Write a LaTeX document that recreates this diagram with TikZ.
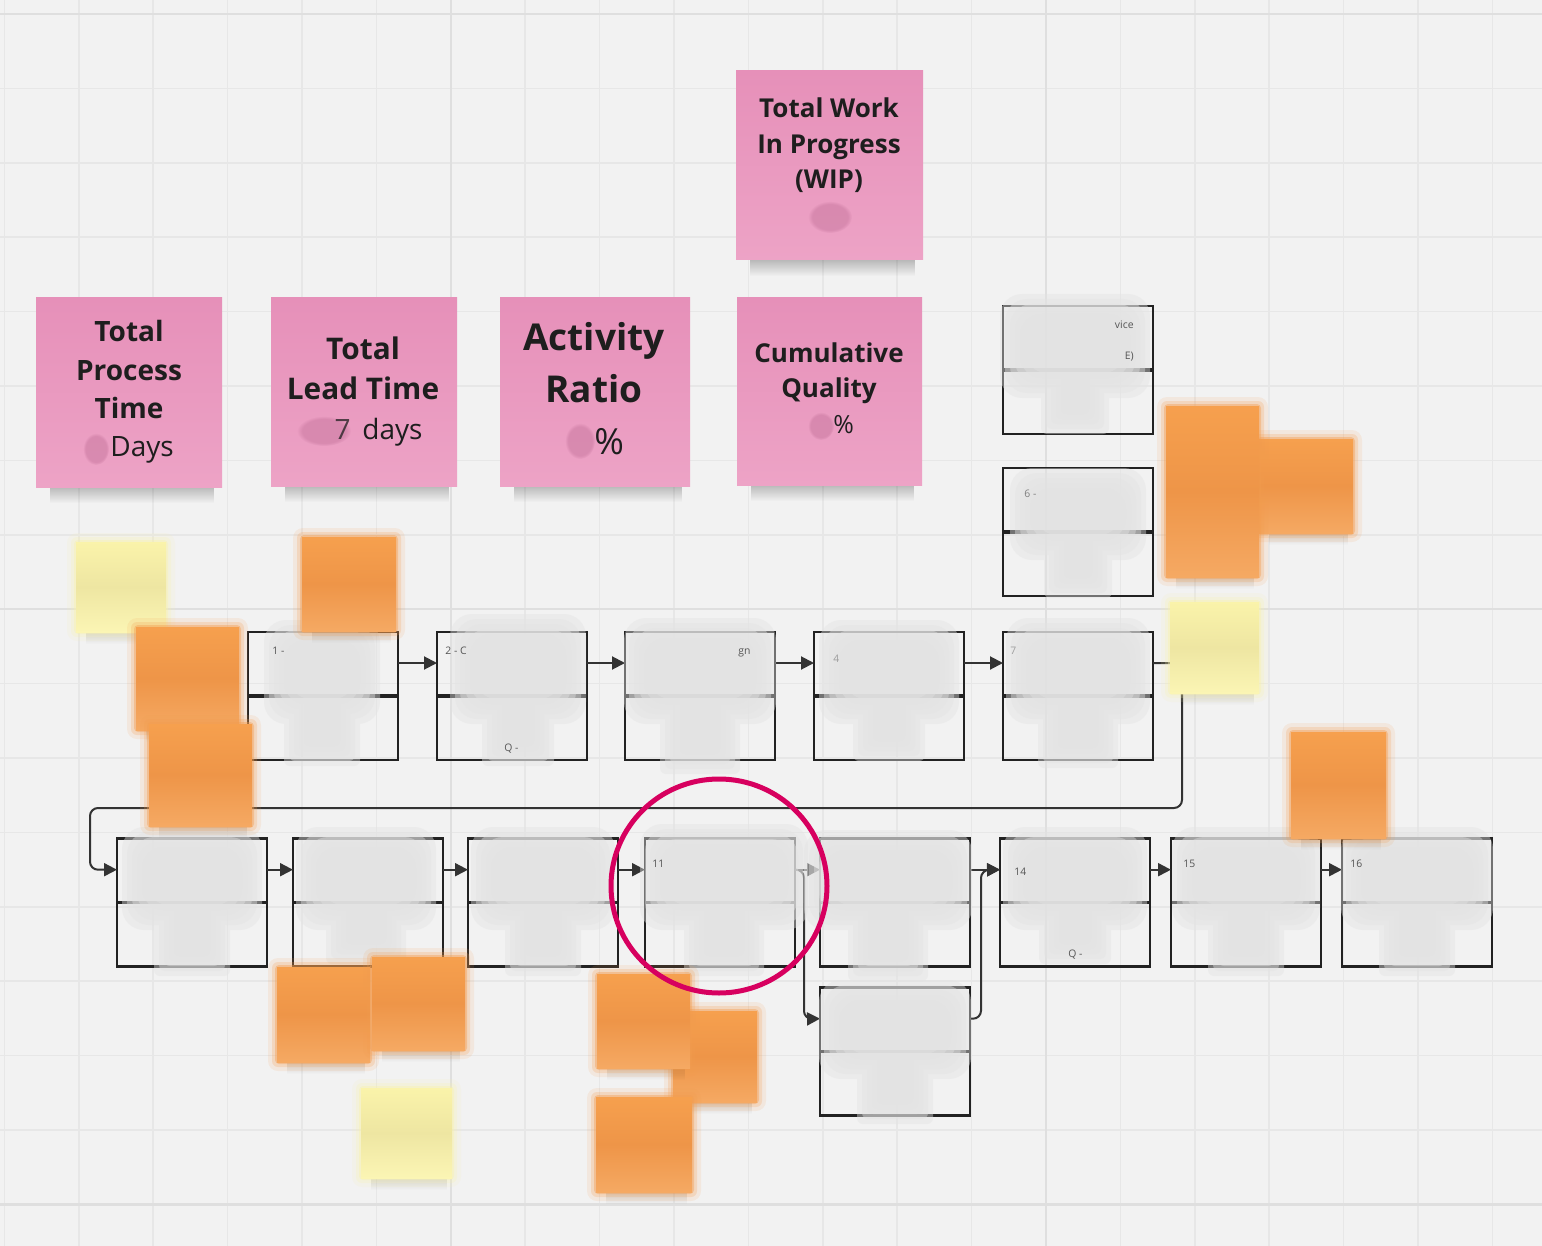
\documentclass[tikz,border=0pt]{standalone}
\usepackage{fontspec}
\setmainfont{Open Sans}
\usetikzlibrary{arrows.meta,fadings}
\definecolor{bgc}{HTML}{F2F2F2}
\definecolor{gridc}{HTML}{E7E7E7}
\definecolor{gridd}{HTML}{DFDFDF}
\definecolor{boxc}{HTML}{222222}
\definecolor{connc}{HTML}{333333}
\definecolor{blobc}{HTML}{E3E3E3}
\definecolor{fragc}{HTML}{555555}
\definecolor{txtc}{HTML}{1E1E1E}
\definecolor{pinkT}{HTML}{E690B9}
\definecolor{pinkB}{HTML}{EDA3C6}
\definecolor{smudgec}{HTML}{CC7CA3}
\definecolor{orngT}{HTML}{F6A04E}
\definecolor{orngM}{HTML}{EE9548}
\definecolor{orngB}{HTML}{F5A963}
\definecolor{orng}{HTML}{F29C4E}
\definecolor{yelT}{HTML}{FAF3AA}
\definecolor{yelM}{HTML}{EEE6A2}
\definecolor{yelB}{HTML}{FBF5B4}
\definecolor{yel}{HTML}{F8F1AC}
\definecolor{magc}{HTML}{D7005F}

% #1 cx, #2 box top, #3 divider y, #4 box bottom, #5 head half width, #6 stem half width
\newcommand\myblob[6]{%
  \foreach \s in {0,5,10,15,20,25}{%
    \fill[blobc,opacity=.42]
      [rounded corners=11pt] ({#1-#5+\s},{#2-12+\s}) rectangle ({#1+#5-\s},{#3+28-\s})
      [rounded corners=3pt] ({#1-#6+\s},{#3}) rectangle ({#1+#6-\s},{#4+6-\s});
  }}
\newcommand\halo[5]{%
  \fill[#5,opacity=.12,rounded corners=5pt] ({#1-9},{#2-9}) rectangle ({#3+9},{#4+9});
  \fill[#5,opacity=.22,rounded corners=3pt] ({#1-5},{#2-5}) rectangle ({#3+5},{#4+5});
  \fill[#5,opacity=.4,rounded corners=2pt] ({#1-2},{#2-2}) rectangle ({#3+2},{#4+2});}
\newcommand\osticky[4]{%
  \fill[black,opacity=.16,path fading=south] ({#1+10},{#4-3}) rectangle ({#3-5},{#4+12});
  \halo{#1}{#2}{#3}{#4}{orng}
  \shade[top color=orngT,bottom color=orngB,middle color=orngM] (#1,#2) rectangle (#3,#4);}
\newcommand\ysticky[4]{%
  \fill[black,opacity=.16,path fading=south] ({#1+10},{#4-3}) rectangle ({#3-5},{#4+12});
  \halo{#1}{#2}{#3}{#4}{yel}
  \shade[top color=yelT,bottom color=yelB,middle color=yelM] (#1,#2) rectangle (#3,#4);}
\newcommand\psticky[4]{%
  \fill[black,opacity=.28,path fading=south] ({#1+14},{#4-3}) rectangle ({#3-8},{#4+16});
  \shade[top color=pinkT,bottom color=pinkB] (#1,#2) rectangle (#3,#4);}
\newcommand\smudge[4]{%
  \fill[smudgec,opacity=.6,path fading=circle with fuzzy edge 20 percent] (#1,#2) ellipse [x radius=#3, y radius=#4];}

\begin{document}
\begin{tikzpicture}[x=0.5pt,y=-0.5pt,
  pbox/.style={draw=boxc,line width=1.2pt,minimum width=75pt,minimum height=64pt,inner sep=0pt,outer sep=0pt},
  divl/.style={draw=boxc,line width=1.8pt},
  conn/.style={draw=connc,line width=1pt,-{Triangle[length=6.5pt,width=6.5pt]}},
  retl/.style={draw=connc,line width=1pt,rounded corners=4pt,-{Triangle[length=6.5pt,width=6.5pt]}},
  lbl/.style={anchor=base,inner sep=0pt,text=txtc},
  bfA/.style={font=\fontsize{14pt}{16pt}\selectfont\bfseries},
  bfL/.style={font=\fontsize{14.9pt}{16pt}\selectfont\bfseries},
  bfB/.style={font=\fontsize{18.5pt}{20pt}\selectfont\bfseries},
  bfC/.style={font=\fontsize{13pt}{15pt}\selectfont\bfseries},
  rgA/.style={font=\fontsize{14pt}{16pt}\selectfont},
  rgB/.style={font=\fontsize{18pt}{20pt}\selectfont},
  rgC/.style={font=\fontsize{12.5pt}{14pt}\selectfont},
  frag/.style={anchor=mid west,inner sep=0pt,text=fragc,font=\fontsize{5.2pt}{6pt}\selectfont},
]
% background and grid
\fill[bgc] (0,0) rectangle (1542,1246);
\useasboundingbox (0,0) rectangle (1542,1246);
\foreach \k in {0,...,20}{\draw[gridc,line width=.75pt] ({4.4+74.4*\k},0) -- ({4.4+74.4*\k},1246);}
\foreach \k in {0,...,16}{\draw[gridc,line width=.75pt] (0,{14+74.4*\k}) -- (1542,{14+74.4*\k});}
\foreach \k in {6,14}{\draw[gridd,line width=1.2pt] ({4.4+74.4*\k},0) -- ({4.4+74.4*\k},1246);}
\foreach \k in {0,8,16}{\draw[gridd,line width=1.2pt] (0,{14+74.4*\k}) -- (1542,{14+74.4*\k});}

% pink metric stickies
\psticky{36}{298}{222}{487}
\psticky{271}{298}{457}{486}
\psticky{500}{298}{690}{486}
\psticky{737}{298}{922}{485}
\psticky{736}{71}{923}{260}

\node[lbl,bfA] (tp1) at (129,341.7) {Total};
\node[lbl,bfA] (tp2) at (129,380.7) {Process};
\node[lbl,bfA] (tp3) at (129,418.3) {Time};
\smudge{96}{449}{13}{16}
\node[lbl,rgA,anchor=base west] (tp4) at (110,456.7) {Days};

\node[lbl,bfL] (tl1) at (363,359) {Total};
\node[lbl,bfL] (tl2) at (363,399.3) {Lead Time};
\smudge{324}{431}{27}{15}
\node[lbl,rgA,anchor=base east,opacity=.75] (tl4) at (351,439.3) {7};
\node[lbl,rgA,anchor=base west] (tl3) at (362,439.3) {days};

\node[lbl,bfB] (ta1) at (594,350.7) {Activity};
\node[lbl,bfB] (ta2) at (594,402.3) {Ratio};
\smudge{580}{441}{15}{18}
\node[lbl,rgB,anchor=base west] (ta3) at (594,454.3) {\%};

\node[lbl,bfC] (tc1) at (829,362.7) {Cumulative};
\node[lbl,bfC] (tc2) at (829,397.3) {Quality};
\smudge{821}{426}{13}{14}
\node[lbl,rgC,anchor=base west] (tc3) at (833,433.3) {\%};

\node[lbl,bfC] (tw1) at (829,117.3) {Total Work};
\node[lbl,bfC] (tw2) at (829,153.3) {In Progress};
\node[lbl,bfC] (tw3) at (829,188.3) {(WIP)};
\smudge{830}{217}{22}{16}

% process boxes
\node[pbox] (b1) at (323,696) {};
\node[pbox] (b2) at (512,696) {};
\node[pbox] (b3) at (700,696) {};
\node[pbox] (b4) at (889,696) {};
\node[pbox] (b5) at (1078,696) {};
\node[pbox] (b15) at (1078,370) {};
\node[pbox] (b16) at (1078,532) {};
\node[pbox] (b6) at (192,902.5) {};
\node[pbox] (b7) at (368,902.5) {};
\node[pbox] (b8) at (543,902.5) {};
\node[pbox] (b9) at (720,902.5) {};
\node[pbox] (b10) at (895,902.5) {};
\node[pbox] (b11) at (895,1051.5) {};
\node[pbox] (b12) at (1075,902.5) {};
\node[pbox] (b13) at (1246,902.5) {};
\node[pbox] (b14) at (1417,902.5) {};
\foreach \b in {b1,b2,b3,b4,b5,b15,b16,b6,b7,b8,b9,b10,b11,b12,b13,b14}{\draw[divl] (\b.west) -- (\b.east);}

% connectors
\coordinate (ret1) at (1182,808);
\coordinate (ret2) at (90,808);
\coordinate (split) at (804,1019);
\coordinate (merge) at (981,870);
\draw[conn] ([yshift=16.5pt]b1.east) -- ([yshift=16.5pt]b2.west);
\draw[conn] ([yshift=16.5pt]b2.east) -- ([yshift=16.5pt]b3.west);
\draw[conn] ([yshift=16.5pt]b3.east) -- ([yshift=16.5pt]b4.west);
\draw[conn] ([yshift=16.5pt]b4.east) -- ([yshift=16.5pt]b5.west);
\draw[retl] ([yshift=16.5pt]b5.east) -| (ret1) -- (ret2) |- ([yshift=16.4pt]b6.west);
\draw[conn] ([yshift=16.4pt]b6.east) -- ([yshift=16.4pt]b7.west);
\draw[conn] ([yshift=16.4pt]b7.east) -- ([yshift=16.4pt]b8.west);
\draw[conn] ([yshift=16.4pt]b8.east) -- ([yshift=16.4pt]b9.west);
\draw[conn] ([yshift=16.4pt]b9.east) -- ([yshift=16.4pt]b10.west);
\draw[retl] ([yshift=16.4pt]b9.east) -| (split) -- ([yshift=16.4pt]b11.west);
\draw[conn] ([yshift=16.4pt]b10.east) -- ([yshift=16.4pt]b12.west);
\draw[retl] ([yshift=16.4pt]b11.east) -| (merge) -- ([yshift=16.4pt]b12.west);
\draw[conn] ([yshift=16.4pt]b12.east) -- ([yshift=16.4pt]b13.west);
\draw[conn] ([yshift=16.4pt]b13.east) -- ([yshift=16.4pt]b14.west);

% blurred box contents
\myblob{322}{632}{696}{760}{58}{38}
\myblob{518}{626}{696}{760}{68}{36}
\myblob{700}{630}{696}{768}{76}{40}
\myblob{889}{632}{696}{755}{70}{36}
\myblob{1078}{630}{696}{762}{72}{40}
\myblob{1075}{306}{370}{428}{75}{34}
\myblob{1078}{480}{532}{592}{68}{34}
\myblob{192}{839}{902}{970}{70}{38}
\myblob{366}{839}{902}{958}{70}{40}
\myblob{543}{839}{902}{970}{72}{38}
\myblob{724}{836}{902}{970}{84}{40}
\myblob{888}{842}{902}{975}{84}{40}
\myblob{895}{992}{1051}{1118}{76}{38}
\myblob{1075}{839}{902}{958}{72}{36}
\myblob{1246}{839}{902}{970}{74}{38}
\myblob{1417}{839}{902}{970}{76}{38}

% legible fragments
\node[frag] (f1) at (272,649) {1 -};
\node[frag] (f2) at (445,649) {2 - C};
\node[frag] (f3) at (504,746) {Q -};
\node[frag] (f4) at (738,649) {gn};
\node[frag,opacity=.5] (f5) at (833,657) {4};
\node[frag,opacity=.5] (f6) at (1010,649) {7};
\node[frag] (f7) at (652,862) {11};
\node[frag] (f8) at (1014,870) {14};
\node[frag] (f9) at (1068,952) {Q -};
\node[frag] (f10) at (1183,862) {15};
\node[frag] (f11) at (1350,862) {16};
\node[frag,opacity=.7] (f12) at (1024,492) {6 -};
\node[frag,anchor=mid east] (f13) at (1134,323) {vice};
\node[frag,anchor=mid east] (f14) at (1134,354) {E)};

% orange and yellow stickies
\ysticky{76}{542}{166}{632}
\osticky{302}{537}{396}{631}
\osticky{136}{627}{239}{730}
\osticky{149}{724}{252}{826}
\osticky{1259}{439}{1353}{533}
\osticky{1166}{406}{1259}{577}
\ysticky{1170}{602}{1259}{693}
\osticky{1291}{732}{1386}{838}
\osticky{277}{967}{370}{1062}
\osticky{372}{957}{465}{1050}
\ysticky{361}{1088}{452}{1178}
\osticky{673}{1011}{757}{1102}
\osticky{597}{974}{690}{1068}
\osticky{596}{1097}{692}{1192}

% highlight circle
\draw[magc,line width=2.5pt] (719,886) ellipse [x radius=108, y radius=107];
\end{tikzpicture}
\end{document}
